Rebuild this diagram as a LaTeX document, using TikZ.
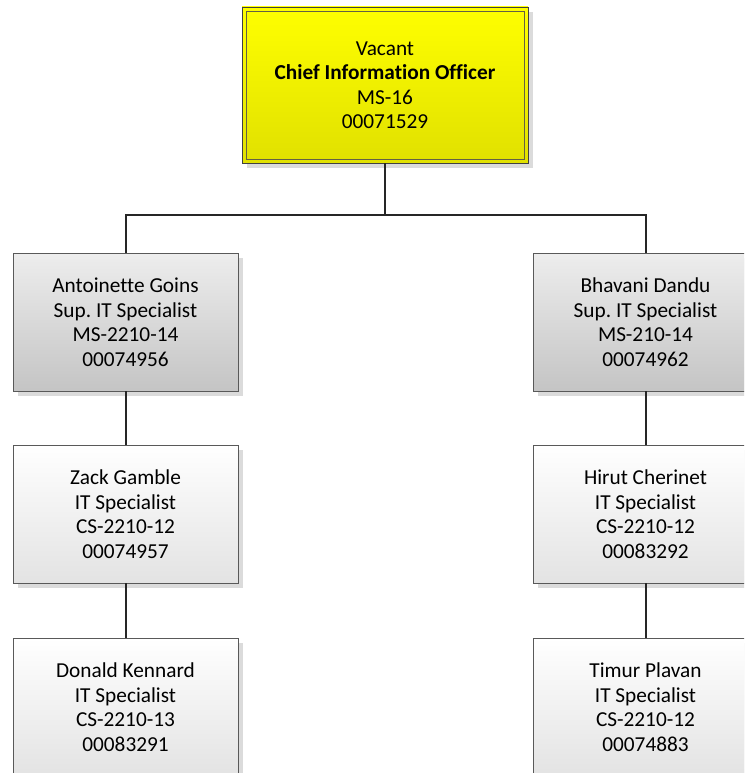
\documentclass[tikz,border=0pt]{standalone}
\usepackage{fontspec}
\setmainfont[Ligatures={NoCommon}]{Carlito}
\usetikzlibrary{shadows}
\frenchspacing
\begin{document}
\begin{tikzpicture}[x=1pt,y=-1pt,
  box/.style={rectangle, draw=black!65, line width=0.9pt,
    minimum width=225pt, minimum height=138pt, inner sep=0pt,
    align=center, font=\fontsize{21.3}{24.5}\selectfont,
    drop shadow={shadow xshift=5pt, shadow yshift=-5pt, fill=black!14, opacity=1}},
  supbox/.style={box, top color=black!7, bottom color=black!23},
  staffbox/.style={box, top color=white, bottom color=black!11},
  chiefbox/.style={box, top color=yellow, bottom color=yellow!88!black,
    minimum width=286pt, minimum height=156pt, draw=black!75},
  innerframe/.style={draw=black!70!yellow, line width=0.8pt},
  link/.style={draw=black!85, line width=2pt}
]
\useasboundingbox (0,0) rectangle (744,773);
\clip (0,0) rectangle (744,773);

% chief
\node[chiefbox] (cio) at (385,85)
  {Vacant\\\textbf{Chief Information Officer}\\MS-16\\00071529};
\draw[innerframe] ([shift={(5,5)}]cio.north west) rectangle ([shift={(-4,-4)}]cio.south east);

% supervisors
\node[supbox] (goins) at (125.5,322)
  {Antoinette Goins\\Sup. IT Specialist\\MS-2210-14\\00074956};
\node[supbox] (dandu) at (645.5,322)
  {Bhavani Dandu\\Sup. IT Specialist\\MS-210-14\\00074962};

% staff
\node[staffbox] (gamble) at (125.5,514)
  {Zack Gamble\\IT Specialist\\CS-2210-12\\00074957};
\node[staffbox] (kennard) at (125.5,707)
  {Donald Kennard\\IT Specialist\\CS-2210-13\\00083291};
\node[staffbox] (cherinet) at (645.5,514)
  {Hirut Cherinet\\IT Specialist\\CS-2210-12\\00083292};
\node[staffbox] (plavan) at (645.5,707)
  {Timur Plavan\\IT Specialist\\CS-2210-12\\00074883};

% connectors
\coordinate (bar) at (385,215);
\draw[link] (cio.south) -- (bar);
\draw[link] (bar) -| (goins.north);
\draw[link] (bar) -| (dandu.north);
\draw[link] (goins.south) -- (gamble.north);
\draw[link] (gamble.south) -- (kennard.north);
\draw[link] (dandu.south) -- (cherinet.north);
\draw[link] (cherinet.south) -- (plavan.north);
\end{tikzpicture}
\end{document}
